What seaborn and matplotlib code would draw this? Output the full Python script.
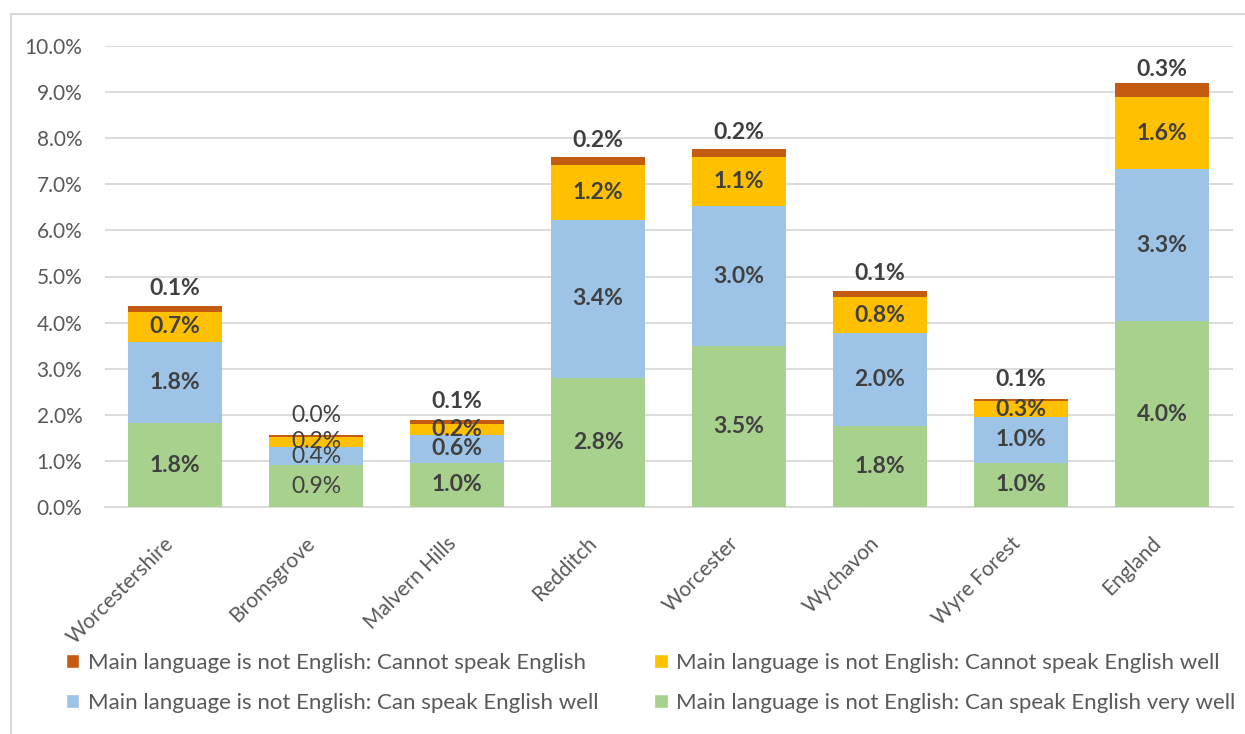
import matplotlib
matplotlib.use("Agg")
import matplotlib.pyplot as plt
import matplotlib.transforms as mtransforms
import seaborn as sns
import pandas as pd
import numpy as np
from matplotlib.patches import Patch, Rectangle
from matplotlib.ticker import FuncFormatter

areas = ["Worcestershire", "Bromsgrove", "Malvern Hills", "Redditch",
         "Worcester", "Wychavon", "Wyre Forest", "England"]
very_well = [1.82, 0.91, 0.96, 2.80, 3.49, 1.76, 0.96, 4.03]
well = [1.76, 0.39, 0.61, 3.43, 3.04, 2.01, 0.99, 3.30]
not_well = [0.66, 0.22, 0.24, 1.19, 1.06, 0.78, 0.34, 1.56]
cannot = [0.11, 0.04, 0.07, 0.17, 0.17, 0.13, 0.06, 0.30]

series_names = [
    "Main language is not English: Can speak English very well",
    "Main language is not English: Can speak English well",
    "Main language is not English: Cannot speak English well",
    "Main language is not English: Cannot speak English",
]
series_vals = [very_well, well, not_well, cannot]
colors = ["#A9D18E", "#9DC3E6", "#FFC000", "#C55A11"]

sns.set_theme(style="white")
plt.rcParams["font.family"] = ["Lato", "DejaVu Sans"]

fig = plt.figure(figsize=(12.45, 7.34), dpi=100)
W, H = 1245, 734
ax = fig.add_axes([104.5 / W, (H - 507) / H, (1232.5 - 104.5) / W, (507 - 46) / H])

arr = np.array(series_vals)
cum = np.cumsum(arr, axis=0)
for i in range(len(series_names) - 1, -1, -1):
    df = pd.DataFrame({"area": areas, "value": cum[i]})
    sns.barplot(data=df, x="area", y="value", color=colors[i], width=0.66,
                saturation=1, ax=ax, zorder=3, linewidth=0)

ax.set_ylim(0, 10)
ax.set_xlim(-0.5, len(areas) - 0.5)
ax.set_yticks(np.arange(0, 10.01, 1))
ax.yaxis.set_major_formatter(FuncFormatter(lambda v, p: f"{v:.1f}%"))
ax.grid(axis="y", color="#D9D9D9", linewidth=1.3, zorder=0)
ax.set_axisbelow(True)
for s in ["left", "right", "top"]:
    ax.spines[s].set_visible(False)
ax.spines["bottom"].set_color("#D9D9D9")
ax.spines["bottom"].set_linewidth(1.3)
ax.set_xlabel("")
ax.set_ylabel("")
ax.tick_params(axis="y", length=0, pad=16, labelsize=15, labelcolor="#595959")
ax.tick_params(axis="x", length=0, pad=24, labelsize=15, labelcolor="#595959")
shift = mtransforms.ScaledTranslation(-4 / 100, 0, fig.dpi_scale_trans)
for lab in ax.get_xticklabels():
    lab.set_rotation(45)
    lab.set_ha("right")
    lab.set_va("center")
    lab.set_rotation_mode("anchor")
    lab.set_transform(lab.get_transform() + shift)

label_color = "#404040"
for j, area in enumerate(areas):
    weight = "normal" if area == "Bromsgrove" else "bold"
    bottoms = np.concatenate([[0], cum[:, j]])
    for i in range(len(series_names)):
        v = arr[i, j]
        centre = bottoms[i] + v / 2
        txt = f"{v:.1f}%"
        if i == len(series_names) - 1:
            ax.annotate(txt, (j, centre), xytext=(0, 15), textcoords="offset points",
                        ha="center", va="center", fontsize=16.5, color=label_color,
                        fontweight=weight, zorder=5)
        else:
            ax.text(j, centre, txt, ha="center", va="center", fontsize=16.5,
                    color=label_color, fontweight=weight, zorder=5)

handles = [Patch(facecolor=colors[3]), Patch(facecolor=colors[1]),
           Patch(facecolor=colors[2]), Patch(facecolor=colors[0])]
labels = [series_names[3], series_names[1], series_names[2], series_names[0]]
leg = fig.legend(handles, labels, ncol=2, loc="center left",
                 bbox_to_anchor=(46 / W, (H - 683) / H), frameon=False,
                 fontsize=16, handlelength=0.6, handleheight=0.6,
                 handletextpad=0.4, columnspacing=2.5, labelspacing=0.9)
for t in leg.get_texts():
    t.set_color("#595959")

fig.add_artist(Rectangle((11 / W, -0.01), (W + 5) / W, (H - 14) / H + 0.01,
                         transform=fig.transFigure, fill=False,
                         edgecolor="#D9D9D9", linewidth=1.5))

fig.savefig("out.png", dpi=100, facecolor="white")
